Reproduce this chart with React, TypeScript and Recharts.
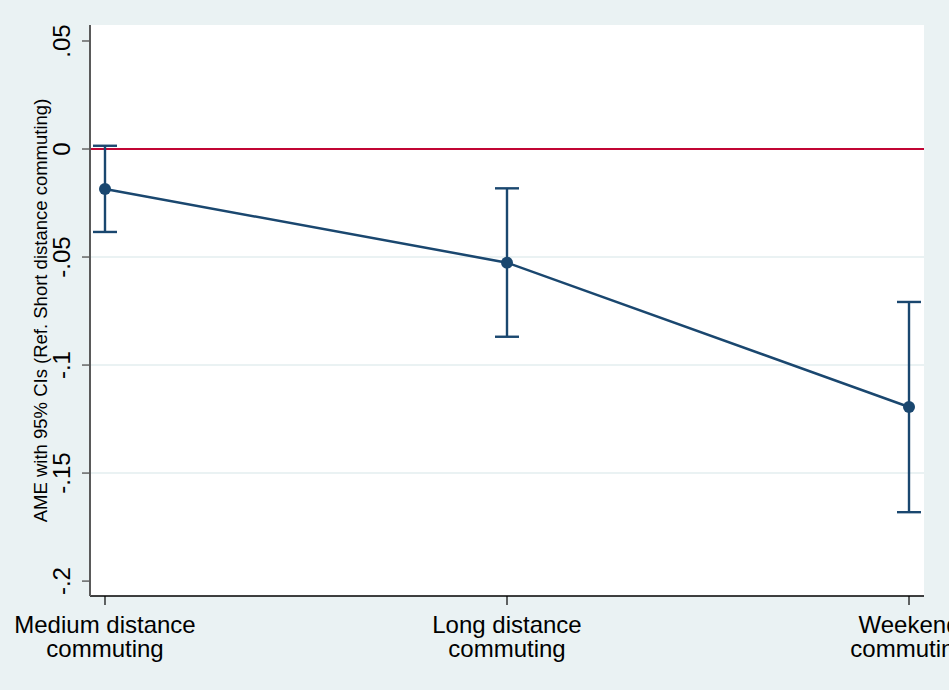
import React from "react";
import {
  ComposedChart,
  Line,
  ErrorBar,
  XAxis,
  YAxis,
  CartesianGrid,
  ReferenceLine,
} from "recharts";

const categoryLines = [
  ["Medium distance", "commuting"],
  ["Long distance", "commuting"],
  ["Weekend", "commuting"],
];
const ame = [-0.0185, -0.0526, -0.1194];
const ciLow = [-0.0384, -0.0869, -0.1681];
const ciHigh = [0.0015, -0.0182, -0.0708];
const yTicks = [-0.2, -0.15, -0.1, -0.05, 0, 0.05];
const gridValues = [-0.05, -0.1, -0.15];

const data = ame.map((v, i) => ({
  x: i,
  ame: v,
  err: [v - ciLow[i], ciHigh[i] - v],
}));

const FONT = "Arial, 'Liberation Sans', sans-serif";
const NAVY = "#1a476f";
const BG = "#eaf2f3";

const fmt = (v: number) => {
  if (Math.abs(v) < 1e-9) return "0";
  const s = String(Math.round(v * 100) / 100);
  return s.replace("0.", ".");
};

const YTick = (props: any) => {
  const { x, y, payload } = props;
  const tx = x - 10;
  return (
    <text
      x={tx}
      y={y}
      transform={`rotate(-90 ${tx} ${y})`}
      textAnchor="middle"
      fontSize={24}
      fontFamily={FONT}
      fill="#000"
    >
      {fmt(payload.value)}
    </text>
  );
};

const XTick = (props: any) => {
  const { x, y, payload } = props;
  const lines = categoryLines[payload.value] || [];
  return (
    <g>
      {lines.map((l, i) => (
        <text
          key={i}
          x={x}
          y={y + 26 + i * 24}
          textAnchor="middle"
          fontSize={24}
          fontFamily={FONT}
          fill="#000"
        >
          {l}
        </text>
      ))}
    </g>
  );
};

const YTitle = (props: any) => {
  const { viewBox } = props;
  const tx = viewBox.x + 47;
  const ty = viewBox.y + viewBox.height / 2;
  return (
    <text
      x={tx}
      y={ty}
      transform={`rotate(-90 ${tx} ${ty})`}
      textAnchor="middle"
      fontSize={18.5}
      fontFamily={FONT}
      fill="#000"
    >
      AME with 95% CIs (Ref. Short distance commuting)
    </text>
  );
};

export default function App() {
  return (
    <div style={{ position: "absolute", left: 0, top: 0, width: 949, height: 690, background: BG }}>
      <ComposedChart
        width={949}
        height={690}
        data={data}
        margin={{ top: 25, right: 25, left: 0, bottom: 0 }}
      >
        <CartesianGrid fill="#ffffff" horizontal={false} vertical={false} />
        <XAxis
          dataKey="x"
          type="number"
          domain={[-0.0373, 2.0373]}
          ticks={[0, 1, 2]}
          allowDataOverflow
          height={94}
          tickSize={9}
          tickMargin={2}
          axisLine={{ stroke: "#000", strokeWidth: 1.4 }}
          tickLine={{ stroke: "#000", strokeWidth: 1.2 }}
          tick={<XTick />}
          interval={0}
        />
        <YAxis
          type="number"
          domain={[-0.2069, 0.0574]}
          ticks={yTicks}
          allowDataOverflow
          width={90}
          tickSize={8}
          tickMargin={2}
          axisLine={{ stroke: "#5a5a5a", strokeWidth: 2 }}
          tickLine={{ stroke: "#5a5a5a", strokeWidth: 1.4 }}
          tick={<YTick />}
          interval={0}
          label={<YTitle />}
        />
        {gridValues.map((g) => (
          <ReferenceLine key={g} y={g} stroke={BG} strokeWidth={2} />
        ))}
        <ReferenceLine y={0} stroke="#c10534" strokeWidth={2.2} />
        <Line
          dataKey="ame"
          stroke={NAVY}
          strokeWidth={2.5}
          dot={{ r: 6, fill: NAVY, stroke: NAVY, strokeWidth: 0 }}
          isAnimationActive={false}
        >
          <ErrorBar dataKey="err" width={12} stroke={NAVY} strokeWidth={2.4} direction="y" />
        </Line>
      </ComposedChart>
    </div>
  );
}
